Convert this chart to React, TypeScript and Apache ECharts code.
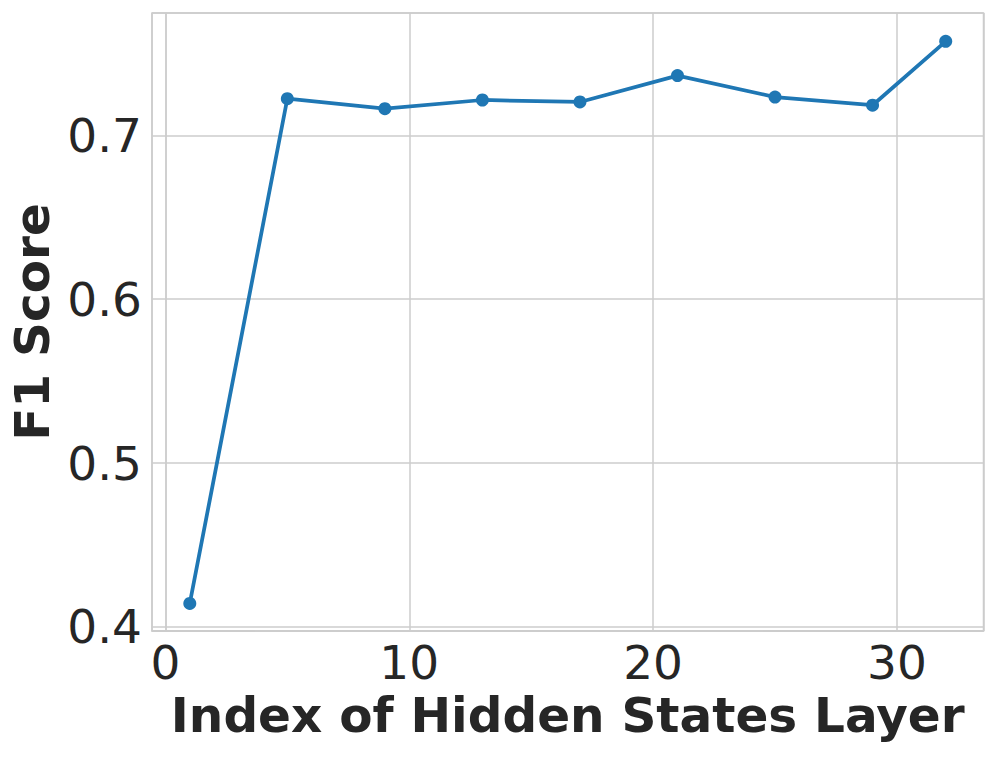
import React, { useEffect, useRef } from "react";
import * as echarts from "echarts";

const layers = [1, 5, 9, 13, 17, 21, 25, 29, 32];
const f1Scores = [0.4143, 0.7224, 0.7163, 0.7216, 0.7204, 0.7365, 0.7234, 0.7184, 0.7574];
const xTitle = "Index of Hidden States Layer";
const yTitle = "F1 Score";

const FONT = "DejaVu Sans";
const TEXT = "#262626";
const GRID = "#cccccc";
const BLUE = "#1f77b4";

export default function App() {
  const ref = useRef<HTMLDivElement>(null);
  useEffect(() => {
    if (!ref.current) return;
    const chart = echarts.init(ref.current, undefined, { renderer: "svg" });
    chart.setOption({
      animation: false,
      backgroundColor: "#ffffff",
      grid: {
        left: 152,
        right: 13.5,
        top: 13,
        bottom: 126,
        containLabel: false,
        outerBoundsMode: "none",
        show: true,
        borderColor: GRID,
        borderWidth: 1.5,
        backgroundColor: "transparent",
      },
      xAxis: {
        type: "value",
        min: -0.55,
        max: 33.55,
        minInterval: 10,
        maxInterval: 10,
        splitNumber: 3,
        name: xTitle,
        nameLocation: "middle",
        nameGap: 47,
        nameTextStyle: { fontFamily: FONT, fontSize: 48.5, fontWeight: "bold", color: TEXT },
        axisLine: { show: true, lineStyle: { color: GRID, width: 1.5 } },
        axisTick: { show: false },
        axisLabel: {
          fontFamily: FONT,
          fontSize: 47,
          color: TEXT,
          margin: 8,
          showMinLabel: false,
          showMaxLabel: false,
          formatter: (v: number) => String(Math.round(v)),
        },
        splitLine: { show: true, lineStyle: { color: GRID, width: 1.5 } },
      },
      yAxis: {
        type: "value",
        min: 0.3975,
        max: 0.7747,
        minInterval: 0.1,
        maxInterval: 0.1,
        splitNumber: 4,
        name: yTitle,
        nameLocation: "middle",
        nameGap: 93,
        nameTextStyle: { fontFamily: FONT, fontSize: 48.5, fontWeight: "bold", color: TEXT },
        axisLine: { show: true, lineStyle: { color: GRID, width: 1.5 } },
        axisTick: { show: false },
        axisLabel: {
          fontFamily: FONT,
          fontSize: 47,
          color: TEXT,
          margin: 10,
          showMinLabel: false,
          showMaxLabel: false,
          formatter: (v: number) => v.toFixed(1),
        },
        splitLine: { show: true, lineStyle: { color: GRID, width: 1.5 } },
      },
      series: [
        {
          type: "line",
          data: layers.map((x, i) => [x, f1Scores[i]]),
          symbol: "circle",
          symbolSize: 13,
          lineStyle: { color: BLUE, width: 3.75 },
          itemStyle: { color: BLUE },
        },
      ],
    });
    return () => chart.dispose();
  }, []);
  return <div ref={ref} style={{ width: 997, height: 757, position: "absolute", left: 0, top: 0 }} />;
}
